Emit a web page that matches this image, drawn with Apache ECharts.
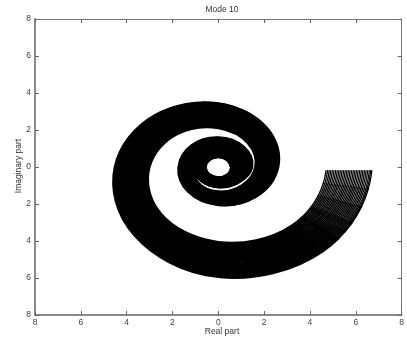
<!DOCTYPE html>
<html>
<head>
<meta charset="utf-8">
<title>Mode 10</title>
<script src="https://cdn.jsdelivr.net/npm/echarts@6/dist/echarts.min.js"></script>
<style>
  html, body { margin: 0; padding: 0; background: #ffffff; }
  #chart { width: 407px; height: 343px; }
</style>
</head>
<body>
<div id="chart"></div>
<script>
// Spiral band: each trajectory is sampled every 45 degrees of winding,
// starting on the positive real axis and turning counter-clockwise.
const STATION_STEP_DEG = 45;

// Radius of the innermost trajectory at each station
const innerRadius = [
  0.53, 0.53, 0.53, 0.535, 0.54, 0.545, 0.55, 0.555,
  0.56, 0.64, 0.75, 0.86, 1.00, 1.21, 1.32, 1.42,
  1.61, 1.82, 2.10, 2.52, 3.00, 3.55, 4.05, 4.50
];

// Radius of the outermost trajectory at each station
const outerRadius = [
  0.80, 0.85, 0.90, 0.97, 1.05, 1.07, 1.10, 1.22,
  1.48, 1.56, 1.60, 1.66, 1.74, 1.88, 2.06, 2.30,
  2.62, 3.00, 3.45, 3.95, 4.52, 5.20, 5.95, 6.45
];

// Final real part of every trajectory (all end on the same imaginary level)
const endReal = [
  4.70, 4.77, 4.84, 4.91, 4.98, 5.05, 5.12, 5.19, 5.26, 5.33,
  5.40, 5.47, 5.54, 5.61, 5.68, 5.75, 5.82, 5.89, 5.96, 6.03,
  6.10, 6.17, 6.24, 6.31, 6.38, 6.45, 6.52, 6.59, 6.65, 6.70
];
const endImag = -0.2;

// Axis ticks
const tickValues = [-8, -6, -4, -2, 0, 2, 4, 6, 8];

// Stroke widths: the dense inner windings, then the final arc thinning out towards the ends
const CORE_WIDTH = 2.1;
const TAIL_WIDTHS = [1.95, 1.7, 1.5, 1.35, 1.25];
const TAIL_FROM_STATION = 23;

const rMin = endReal[0];
const rMax = endReal[endReal.length - 1];
const step = STATION_STEP_DEG * Math.PI / 180;

// Polar samples (angle, radius) of trajectory k, blended between the two bounding trajectories
function trajectory(k) {
  const f = (endReal[k] - rMin) / (rMax - rMin);
  const th = [], r = [];
  innerRadius.forEach(function (ri, j) {
    th.push(j * step);
    r.push(ri + f * (outerRadius[j] - ri));
  });
  const turns = Math.round(innerRadius.length * step / (2 * Math.PI));
  th.push(turns * 2 * Math.PI + Math.atan2(endImag, endReal[k]));
  r.push(Math.hypot(endReal[k], endImag));
  return { th: th, r: r };
}

function lerp(a, b, t) { return [a[0] + (b[0] - a[0]) * t, a[1] + (b[1] - a[1]) * t]; }

// Part of a cubic curve between parameters t0 and t1 (de Casteljau)
function subCubic(p0, p1, p2, p3, t0, t1) {
  function splitLeft(q0, q1, q2, q3, t) {
    const a = lerp(q0, q1, t), b = lerp(q1, q2, t), c = lerp(q2, q3, t);
    const d = lerp(a, b, t), e = lerp(b, c, t), m = lerp(d, e, t);
    return [q0, a, d, m];
  }
  function splitRight(q0, q1, q2, q3, t) {
    const a = lerp(q0, q1, t), b = lerp(q1, q2, t), c = lerp(q2, q3, t);
    const d = lerp(a, b, t), e = lerp(b, c, t), m = lerp(d, e, t);
    return [m, e, c, q3];
  }
  const left = splitLeft(p0, p1, p2, p3, t1);
  return splitRight(left[0], left[1], left[2], left[3], t0 / t1);
}

// Draws one trajectory as a chain of cubic curves following the winding (Hermite in angle)
function renderItem(params, api) {
  const t = trajectory(params.dataIndex);
  const n = t.th.length;
  const P = [], T = [];
  for (let i = 0; i < n; i++) {
    const a = t.th[i], rr = t.r[i];
    const i0 = Math.max(0, i - 1), i1 = Math.min(n - 1, i + 1);
    const dr = (t.r[i1] - t.r[i0]) / (t.th[i1] - t.th[i0]);
    P.push([rr * Math.cos(a), rr * Math.sin(a)]);
    T.push([dr * Math.cos(a) - rr * Math.sin(a), dr * Math.sin(a) + rr * Math.cos(a)]);
  }
  function px(p) { const c = api.coord(p); return c[0].toFixed(2) + ' ' + c[1].toFixed(2); }
  function controls(i) {
    const h = (t.th[i + 1] - t.th[i]) / 3;
    return [
      P[i],
      [P[i][0] + T[i][0] * h, P[i][1] + T[i][1] * h],
      [P[i + 1][0] - T[i + 1][0] * h, P[i + 1][1] - T[i + 1][1] * h],
      P[i + 1]
    ];
  }
  let core = 'M ' + px(P[0]);
  for (let i = 0; i < TAIL_FROM_STATION; i++) {
    const c = controls(i);
    core += ' C ' + px(c[1]) + ' ' + px(c[2]) + ' ' + px(c[3]);
  }
  const children = [
    { type: 'path', shape: { pathData: core },
      style: { fill: null, stroke: '#000000', lineWidth: CORE_WIDTH } }
  ];
  for (let i = TAIL_FROM_STATION; i < n - 1; i++) {
    const c = controls(i);
    const m = TAIL_WIDTHS.length;
    for (let s = 0; s < m; s++) {
      const q = subCubic(c[0], c[1], c[2], c[3], s / m || 1e-9, (s + 1) / m);
      if (s === 0) { q[0] = c[0]; }
      children.push({
        type: 'path',
        shape: { pathData: 'M ' + px(q[0]) + ' C ' + px(q[1]) + ' ' + px(q[2]) + ' ' + px(q[3]) },
        style: { fill: null, stroke: '#000000', lineWidth: TAIL_WIDTHS[s], lineCap: 'round' }
      });
    }
  }
  return { type: 'group', children: children };
}

const axisCommon = {
  type: 'value',
  min: tickValues[0],
  max: tickValues[tickValues.length - 1],
  interval: 2,
  splitLine: { show: false }
};

const labelStyle = {
  fontFamily: 'Liberation Sans, Arial, sans-serif',
  fontSize: 8.5,
  color: '#444444'
};

const chart = echarts.init(document.getElementById('chart'));
chart.setOption({
  animation: false,
  backgroundColor: '#ffffff',
  grid: { left: 35, top: 19, width: 374, height: 296, containLabel: false },
  xAxis: [
    Object.assign({}, axisCommon, {
      position: 'bottom',
      axisLine: { onZero: false, lineStyle: { color: '#8a8a8a', width: 2 } },
      axisTick: { inside: true, length: 4, lineStyle: { color: '#666666' } },
      axisLabel: Object.assign({ margin: 3, formatter: function (v) { return String(Math.abs(v)); } }, labelStyle)
    }),
    Object.assign({}, axisCommon, {
      position: 'top',
      axisLine: { onZero: false, lineStyle: { color: '#777777', width: 1 } },
      axisTick: { inside: true, length: 4, lineStyle: { color: '#666666' } },
      axisLabel: { show: false }
    })
  ],
  yAxis: [
    Object.assign({}, axisCommon, {
      position: 'left',
      axisLine: { onZero: false, lineStyle: { color: '#8a8a8a', width: 2 } },
      axisTick: { inside: true, length: 4, lineStyle: { color: '#666666' } },
      axisLabel: Object.assign({ margin: 4, formatter: function (v) { return String(Math.abs(v)); } }, labelStyle)
    }),
    Object.assign({}, axisCommon, {
      position: 'right',
      axisLine: { onZero: false, lineStyle: { color: '#777777', width: 1 } },
      axisTick: { inside: true, length: 4, lineStyle: { color: '#666666' } },
      axisLabel: { show: false }
    })
  ],
  graphic: [
    { type: 'text', x: 222, y: 10, style: { text: 'Mode 10', textAlign: 'center', textVerticalAlign: 'middle', font: '8.5px "Liberation Sans", Arial, sans-serif', fill: '#333333' } },
    { type: 'text', x: 222, y: 332, style: { text: 'Real part', textAlign: 'center', textVerticalAlign: 'middle', font: '8.5px "Liberation Sans", Arial, sans-serif', fill: '#333333' } },
    { type: 'text', x: 19, y: 166, rotation: Math.PI / 2, style: { text: 'Imaginary part', textAlign: 'center', textVerticalAlign: 'middle', font: '8.5px "Liberation Sans", Arial, sans-serif', fill: '#333333' } }
  ],
  series: [{
    type: 'custom',
    coordinateSystem: 'cartesian2d',
    xAxisIndex: 0,
    yAxisIndex: 0,
    silent: true,
    data: endReal.map(function (x) { return [x, endImag]; }),
    encode: { x: 0, y: 1 },
    renderItem: renderItem
  }]
});
</script>
</body>
</html>
